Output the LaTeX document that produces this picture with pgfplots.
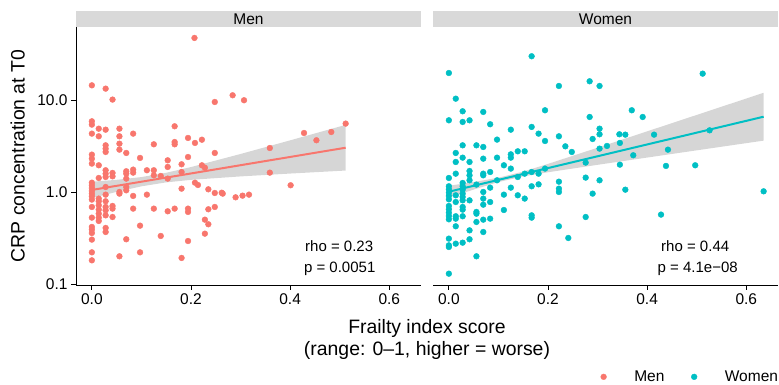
\documentclass[border=0pt]{standalone}
\usepackage{fontspec}
\setmainfont{Liberation Sans}
\usepackage{pgfplots}
\usepackage{pgfplotstable}
\pgfplotsset{compat=1.18}
\usepgfplotslibrary{fillbetween}
\definecolor{menc}{HTML}{F8766D}
\definecolor{womc}{HTML}{00BFC4}
\definecolor{stripc}{HTML}{D9D9D9}
\definecolor{bandc}{HTML}{999999}

% x = frailty index, y = log10(CRP concentration at T0)
\pgfplotstableread{
x y
0 1.159
0 0.768
0 0.732
0 0.634
0 0.406
0 0.362
0 0.308
0 0.101
0 0.072
0 0.043
0 0.011
0 -0.018
0 -0.047
0 -0.083
0 -0.163
0 -0.279
0 -0.380
0 -0.409
0 -0.446
0 -0.518
0 -0.656
0 -0.743
0.0139 0.688
0.0139 0.605
0.0139 0.290
0.0139 0.152
0.0139 -0.072
0.0139 -0.101
0.0139 -0.145
0.0139 -0.192
0.0139 -0.236
0.0139 -0.279
0.0139 -0.315
0.0278 1.123
0.0278 0.677
0.0278 0.507
0.0278 0.471
0.0278 0.435
0.0278 0.236
0.0278 0.199
0.0278 0.163
0.0278 0.054
0.0278 -0.029
0.0278 -0.101
0.0278 -0.163
0.0278 -0.199
0.0278 -0.254
0.0278 -0.391
0.0278 -0.435
0.0417 1.004
0.0417 0.207
0.0417 0.170
0.0417 -0.152
0.0417 -0.181
0.0417 -0.272
0.0556 0.688
0.0556 0.605
0.0556 0.525
0.0556 0.460
0.0556 0.000
0.0556 -0.018
0.0556 -0.699
0.0694 0.424
0.0694 0.225
0.0694 0.199
0.0694 0.145
0.0694 0.054
0.0694 0.018
0.0694 -0.514
0.0833 0.634
0.0833 0.243
0.0833 0.210
0.0833 -0.043
0.0833 -0.181
0.0972 0.370
0.0972 -0.366
0.0972 -0.656
0.111 0.236
0.111 -0.029
0.125 0.518
0.125 0.236
0.125 0.181
0.125 -0.181
0.139 0.174
0.139 -0.478
0.153 0.344
0.153 0.272
0.153 0.145
0.153 -0.210
0.167 0.714
0.167 0.543
0.167 0.518
0.167 -0.181
0.181 0.301
0.181 0.217
0.181 0.036
0.181 -0.717
0.194 0.587
0.194 0.380
0.194 -0.181
0.194 -0.217
0.194 -0.533
0.208 0.533
0.208 0.101
0.214 0.076
0.222 0.568
0.222 0.290
0.228 0.264
0.207 1.674
0.248 0.978
0.284 1.051
0.307 0.997
0.248 0.424
0.359 0.478
0.359 0.210
0.428 0.641
0.453 0.562
0.483 0.652
0.512 0.743
0.401 0.073
0.235 0.029
0.248 -0.011
0.262 -0.008
0.264 -0.018
0.290 -0.058
0.304 -0.040
0.317 -0.029
0.235 -0.188
0.248 -0.163
0.228 -0.301
0.235 -0.351
0.228 -0.453
}\menpts

\pgfplotstableread{
x y
0 1.293
0 0.779
0 0.152
0 0.062
0 0.029
0 -0.007
0 -0.043
0 -0.080
0 -0.152
0 -0.188
0 -0.225
0 -0.261
0 -0.297
0 -0.507
0 -0.580
0 -0.598
0 -0.888
0.0139 1.014
0.0139 0.424
0.0139 0.326
0.0139 0.199
0.0139 -0.036
0.0139 -0.109
0.0139 -0.264
0.0139 -0.290
0.0139 -0.373
0.0139 -0.562
0.0278 0.877
0.0278 0.761
0.0278 0.507
0.0278 0.373
0.0278 0.098
0.0278 0.062
0.0278 0.025
0.0278 -0.018
0.0278 -0.054
0.0278 -0.091
0.0278 -0.163
0.0278 -0.192
0.0278 -0.264
0.0278 -0.551
0.0417 0.779
0.0417 0.326
0.0417 0.228
0.0417 0.181
0.0417 0.127
0.0417 -0.091
0.0417 -0.417
0.0417 -0.514
0.0556 0.507
0.0556 0.080
0.0556 -0.217
0.0556 -0.236
0.0556 -0.326
0.0556 -0.699
0.0694 0.870
0.0694 0.489
0.0694 0.362
0.0694 0.199
0.0694 0.181
0.0694 0.000
0.0694 -0.072
0.0694 -0.138
0.0694 -0.301
0.0694 -0.435
0.0833 0.736
0.0833 0.217
0.0833 0.047
0.0833 -0.109
0.0833 -0.290
0.0972 0.569
0.0972 0.373
0.0972 0.127
0.111 0.290
0.111 -0.029
0.111 -0.196
0.125 0.677
0.125 0.409
0.125 0.373
0.125 0.254
0.125 0.047
0.139 0.442
0.139 0.163
0.139 -0.036
0.153 0.442
0.153 0.199
0.153 -0.072
0.167 1.475
0.167 0.707
0.167 0.217
0.167 0.062
0.167 -0.254
0.167 -0.279
0.181 0.634
0.181 0.199
0.181 0.083
0.194 0.888
0.194 0.554
0.194 0.254
0.222 1.152
0.222 0.605
0.222 0.112
0.222 0.036
0.222 0.000
0.222 -0.373
0.284 1.203
0.304 1.152
0.241 -0.500
0.235 0.496
0.248 0.435
0.284 0.815
0.304 0.688
0.304 0.627
0.290 0.576
0.304 0.471
0.319 0.500
0.276 0.319
0.276 0.156
0.304 0.127
0.290 -0.018
0.276 -0.272
0.344 0.627
0.356 0.623
0.345 0.533
0.369 0.888
0.391 0.815
0.414 0.623
0.372 0.399
0.345 0.297
0.356 0.025
0.442 0.460
0.438 0.283
0.497 0.290
0.428 -0.246
0.512 1.286
0.526 0.670
0.635 0.007
}\wompts

\pgfplotsset{
  panel/.style={
    scale only axis, width=345pt, height=258pt,
    xmin=-0.032, xmax=0.664, ymin=-1.011, ymax=1.793,
    axis x line*=bottom,
    axis line style={-, line width=0.9pt, black},
    xtick={0,0.2,0.4,0.6}, xticklabels={0.0,0.2,0.4,0.6},
    tick align=outside, major tick length=5pt,
    tick style={line width=0.9pt, black},
    tick label style={font=\fontsize{15.5}{18}\selectfont, text=black},
    /pgf/number format/assume math mode=true,
    legend image code/.code={\draw[#1] plot coordinates {(0pt,0pt)};},
  },
  pts/.style={only marks, mark=*, mark size=2.9pt},
}

\begin{document}
\begin{tikzpicture}
\path (0pt,0pt) rectangle (779pt,385pt);

% strips
\fill[stripc] (76pt,358pt) rectangle (421pt,374pt);
\fill[stripc] (433pt,358pt) rectangle (778pt,374pt);
\node[anchor=base, font=\fontsize{15.5}{18}\selectfont] at (248.5pt,360pt) {Men};
\node[anchor=base, font=\fontsize{15.5}{18}\selectfont] at (605.5pt,360pt) {Women};

\begin{axis}[panel, at={(76pt,100pt)}, anchor=south west,
  axis y line*=left,
  ytick={-1,0,1}, yticklabels={0.1,1.0,10.0}]
\addplot[pts, menc] table {\menpts};
\addplot[name path=mu, draw=none, forget plot] coordinates {(0,0.111) (0.05,0.1321) (0.1,0.162) (0.15,0.2087) (0.2,0.2709) (0.3,0.4129) (0.4,0.5611) (0.512,0.7291)};
\addplot[name path=ml, draw=none, forget plot] coordinates {(0,-0.067) (0.05,0.0015) (0.1,0.0614) (0.15,0.1043) (0.2,0.1317) (0.3,0.1691) (0.4,0.2001) (0.512,0.2329)};
\addplot[bandc, fill opacity=0.4, draw=none, forget plot] fill between[of=mu and ml];
\addplot[menc, line width=2pt, forget plot] coordinates {(0,0.022) (0.512,0.481)};
\node[anchor=base, font=\fontsize{15}{18}\selectfont] at (axis cs:0.499,-0.652) {rho = 0.23};
\node[anchor=base, font=\fontsize{15}{18}\selectfont] at (axis cs:0.500,-0.880) {p = 0.0051};
\end{axis}

\begin{axis}[panel, at={(433pt,100pt)}, anchor=south west,
  axis y line=none, ytick=\empty,
  legend style={at={(1,-0.356)}, anchor=east, draw=none, fill=none,
    inner sep=0pt, outer sep=0pt, legend columns=2,
    font=\fontsize{15.5}{18}\selectfont, nodes={inner sep=0pt},
    /tikz/every odd column/.append style={column sep=27.8pt},
    /tikz/every even column/.append style={column sep=26.8pt}}]
\addlegendimage{pts, menc}
\addlegendentry{Men}
\addplot[pts, womc] table {\wompts};
\addlegendentry{Women}
\addplot[name path=wu, draw=none, forget plot] coordinates {(0,0.067) (0.05,0.1084) (0.1,0.155) (0.15,0.2216) (0.2,0.3052) (0.3,0.4811) (0.4,0.6589) (0.5,0.8372) (0.635,1.078)};
\addplot[name path=wl, draw=none, forget plot] coordinates {(0,-0.061) (0.05,0.026) (0.1,0.1078) (0.15,0.1694) (0.2,0.2142) (0.3,0.2951) (0.4,0.3739) (0.5,0.4524) (0.635,0.558)};
\addplot[bandc, fill opacity=0.4, draw=none, forget plot] fill between[of=wu and wl];
\addplot[womc, line width=2pt, forget plot] coordinates {(0,0.003) (0.635,0.818)};
\node[anchor=base, font=\fontsize{15}{18}\selectfont] at (axis cs:0.497,-0.652) {rho = 0.44};
\node[anchor=base, font=\fontsize{15}{18}\selectfont] at (axis cs:0.502,-0.880) {p = 4.1e−08};
\end{axis}

% axis titles
\node[anchor=base, inner sep=0pt, font=\fontsize{19.4}{22}\selectfont] at (427pt,51pt) {Frailty index score};
\node[anchor=base, inner sep=0pt, font=\fontsize{19.4}{22}\selectfont] at (427pt,29pt) {(range: 0–1, higher = worse)};
\node[rotate=90, anchor=base, inner sep=0pt, font=\fontsize{19.4}{22}\selectfont] at (24.5pt,229pt) {CRP concentration at T0};
\end{tikzpicture}
\end{document}
